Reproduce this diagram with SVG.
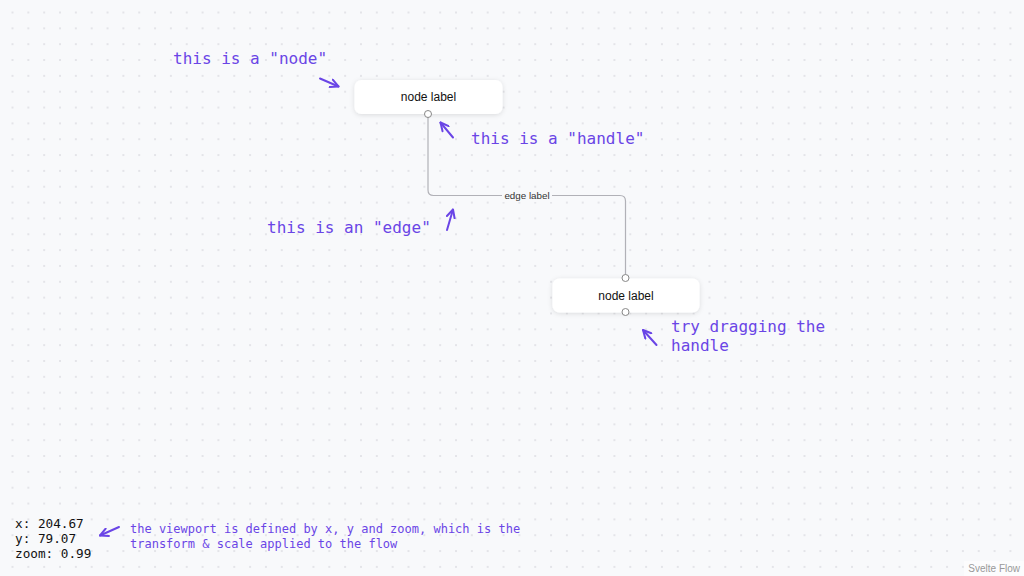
<svg xmlns="http://www.w3.org/2000/svg" width="1024" height="576" viewBox="0 0 1024 576">
<defs>
<pattern id="dots" patternUnits="userSpaceOnUse" x="4.58" y="4.58" width="15.84" height="15.84">
<circle cx="7.92" cy="7.92" r="0.75" fill="#c4c6cc"/>
</pattern>
<filter id="shadow" x="-20%" y="-40%" width="140%" height="180%">
<feDropShadow dx="0" dy="1" stdDeviation="2.5" flood-color="#000" flood-opacity="0.12"/>
</filter>
<marker id="chev" viewBox="0 0 10 10" refX="9" refY="5" markerWidth="10" markerHeight="10" markerUnits="userSpaceOnUse" orient="auto">
<path d="M1,1 L9,5 L1,9" fill="none" stroke="#6a45e6" stroke-width="2" stroke-linecap="round" stroke-linejoin="round"/>
</marker>
<style>
.node rect{fill:#fff;filter:url(#shadow)}
.nlabel{font-family:"Liberation Sans",Arial,sans-serif;font-size:12px;fill:#111;text-anchor:middle}
.handle{fill:#fff;stroke:#888;stroke-width:1}
.edge{fill:none;stroke:#b1b1b7;stroke-width:1.2}
.elabel{font-family:"Liberation Sans",Arial,sans-serif;font-size:9.8px;fill:#333;text-anchor:middle}
.note{font-family:"DejaVu Sans Mono","Liberation Mono",monospace;font-size:16px;fill:#6a45e6}
.note-s{font-family:"DejaVu Sans Mono","Liberation Mono",monospace;font-size:12px;fill:#6a45e6}
.vp{font-family:"DejaVu Sans Mono","Liberation Mono",monospace;font-size:12.7px;fill:#111}
.arr{fill:none;stroke:#6a45e6;stroke-width:2;stroke-linecap:round;marker-end:url(#chev)}
</style>
</defs>
<rect width="1024" height="576" fill="#f8f9fb"/>
<rect width="1024" height="576" fill="url(#dots)"/>

<g id="connectors">
<path class="edge" d="M428,114 L428,190 Q428,195.5 433.5,195.5 L620,195.5 Q625.5,195.5 625.5,201 L625.5,278"/>
<rect x="502" y="189" width="50" height="13" fill="#f8f9fb"/>
<text class="elabel" x="527" y="199">edge label</text>
</g>

<g id="node-1" class="node">
<rect x="354.5" y="80" width="148" height="34" rx="7"/>
<text class="nlabel" x="428.5" y="101">node label</text>
<circle class="handle" cx="428" cy="114" r="3.5"/>
</g>

<g id="node-2" class="node">
<rect x="552.5" y="278.5" width="147" height="34" rx="7"/>
<text class="nlabel" x="626" y="299.5">node label</text>
<circle class="handle" cx="625.5" cy="278" r="3.5"/>
<circle class="handle" cx="625.5" cy="312" r="3.5"/>
</g>

<g id="annotations">
<text class="note" x="173" y="64">this is a "node"</text>
<path class="arr" d="M320,78.5 L338.5,86.5"/>
<text class="note" x="471" y="144">this is a "handle"</text>
<path class="arr" d="M453,137.5 L440.5,122.5"/>
<text class="note" x="267" y="233">this is an "edge"</text>
<path class="arr" d="M447,230 L453,209.5"/>
<text class="note" x="671" y="332">try dragging the</text>
<text class="note" x="671" y="351">handle</text>
<path class="arr" d="M656.5,345 L643,330"/>
<text class="note-s" x="130" y="533">the viewport is defined by x, y and zoom, which is the</text>
<text class="note-s" x="130" y="548">transform &amp; scale applied to the flow</text>
<path class="arr" d="M119,527 L100,535.5"/>
</g>

<g id="viewport">
<text class="vp" x="15" y="528">x: 204.67</text>
<text class="vp" x="15" y="543">y: 79.07</text>
<text class="vp" x="15" y="558">zoom: 0.99</text>
</g>

<g id="attribution">
<rect x="964" y="561" width="60" height="15" fill="#fff" fill-opacity="0.5"/>
<text x="1020" y="572" font-family="'Liberation Sans',Arial,sans-serif" font-size="10" fill="#999" text-anchor="end">Svelte Flow</text>
</g>
</svg>
